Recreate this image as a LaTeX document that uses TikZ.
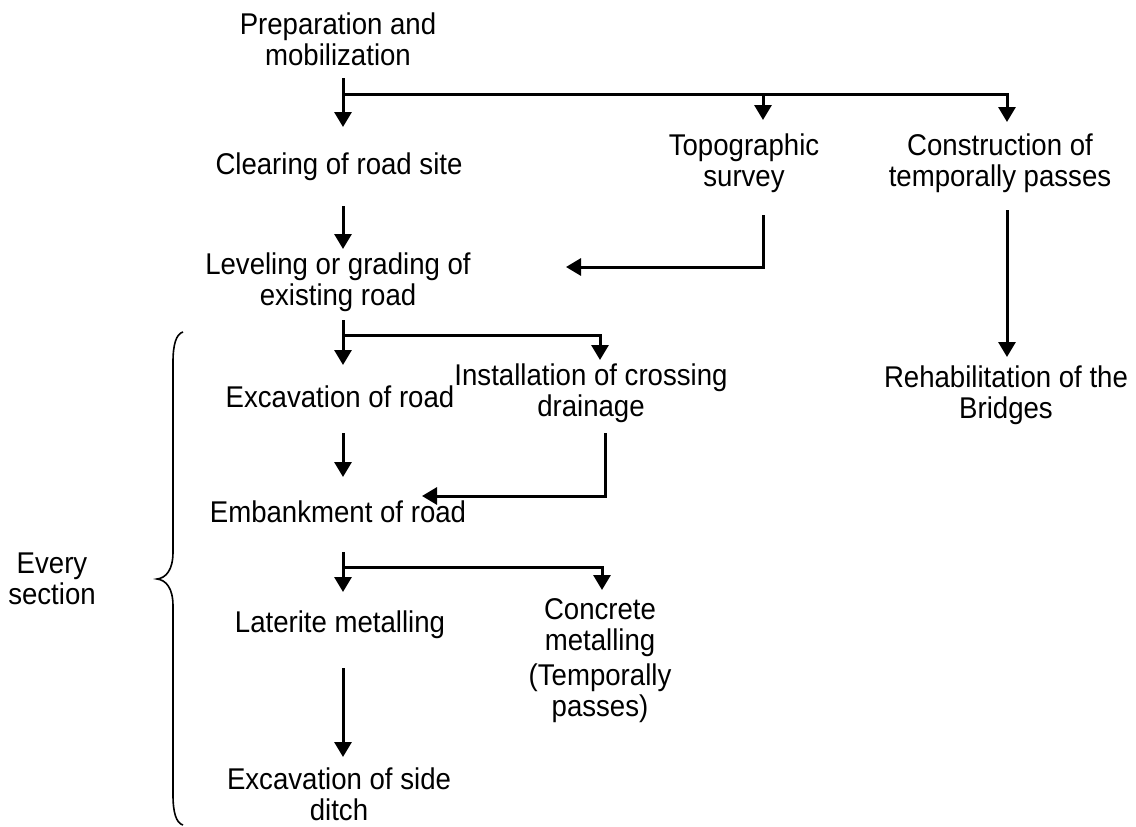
\documentclass[tikz,border=0pt]{standalone}
\usepackage{fontspec}
\setmainfont{Liberation Sans}[FakeStretch=0.92]
\usetikzlibrary{arrows.meta}

\begin{document}
\begin{tikzpicture}[x=1pt,y=-1pt,
  lbl/.style={anchor=north,inner sep=0pt,align=center,
    font=\fontsize{30}{31}\selectfont,
    execute at begin node={\rule{0pt}{24pt}}},
  link/.style={line width=3pt},
  arr/.style={link,-{Triangle[width=17pt,length=15pt]}},
  brace/.style={line width=1.6pt}]
\useasboundingbox (0,0) rectangle (1136,827);

% activity labels (north anchor sits 24pt above the first baseline)
\node[lbl] (prep)    at (338,13)  {Preparation and\\mobilization};
\node[lbl] (clear)   at (339,150) {Clearing of road site};
\node[lbl] (topo)    at (744,134) {Topographic\\survey};
\node[lbl] (constr)  at (1000,134) {Construction of\\temporally passes};
\node[lbl] (level)   at (338,253) {Leveling or grading of\\existing road};
\node[lbl] (rehab)   at (1006,366) {Rehabilitation of the\\Bridges};
\node[lbl] (excav)   at (340,383) {Excavation of road};
\node[lbl] (install) at (591,364) {Installation of crossing\\drainage};
\node[lbl] (embank)  at (338,498) {Embankment of road};
\node[lbl] (later)   at (340,608) {Laterite metalling};
\node[lbl] (concr)   at (600,598) {Concrete\\metalling\\[4pt](Temporally\\passes)};
\node[lbl] (ditch)   at (339,768) {Excavation of side\\ditch};
\node[lbl] (every)   at (52,553)  {Every\\section};

% connector end points
\coordinate (a0) at (343,78);   \coordinate (a1) at (343,127);
\coordinate (aj) at (343,94);   \coordinate (ak) at (763,94);
\coordinate (ar) at (1007,94);  \coordinate (at) at (763,120);
\coordinate (ae) at (1007,122);
\coordinate (b0) at (343,206);  \coordinate (b1) at (343,249);
\coordinate (c0) at (763,215);  \coordinate (c1) at (763,267);
\coordinate (c2) at (566,267);
\coordinate (d0) at (1007,210); \coordinate (d1) at (1007,357);
\coordinate (e0) at (343,320);  \coordinate (e1) at (343,365);
\coordinate (ej) at (343,335);  \coordinate (er) at (600,335);
\coordinate (e2) at (600,360);
\coordinate (f0) at (343,433);  \coordinate (f1) at (343,477);
\coordinate (g0) at (605,433);  \coordinate (g1) at (605,496);
\coordinate (g2) at (422,496);
\coordinate (h0) at (343,552);  \coordinate (h1) at (343,592);
\coordinate (hj) at (343,567);  \coordinate (hr) at (602,567);
\coordinate (h2) at (602,590);
\coordinate (i0) at (343,668);  \coordinate (i1) at (343,757);

% preparation branches
\draw[arr] (a0) -- (a1);
\draw[arr] (aj) -- (ar) -- (ae);
\draw[arr] (ak) -- (at);
% clearing to levelling
\draw[arr] (b0) -- (b1);
% survey feeds levelling
\draw[arr] (c0) -- (c1) -- (c2);
% temporary passes to bridges
\draw[arr] (d0) -- (d1);
% levelling branches
\draw[arr] (e0) -- (e1);
\draw[arr] (ej) -- (er) -- (e2);
% excavation to embankment
\draw[arr] (f0) -- (f1);
% drainage feeds embankment
\draw[arr] (g0) -- (g1) -- (g2);
% embankment branches
\draw[arr] (h0) -- (h1);
\draw[arr] (hj) -- (hr) -- (h2);
% laterite to side ditch
\draw[arr] (i0) -- (i1);

% curly brace grouping every section
\draw[brace] (183,332) .. controls (176,334) and (173,345) .. (173,362)
  -- (173,552) .. controls (173,570) and (166,578) .. (157,579)
  .. controls (166,580) and (173,588) .. (173,606)
  -- (173,795) .. controls (173,812) and (176,823) .. (183,825);
\end{tikzpicture}
\end{document}
